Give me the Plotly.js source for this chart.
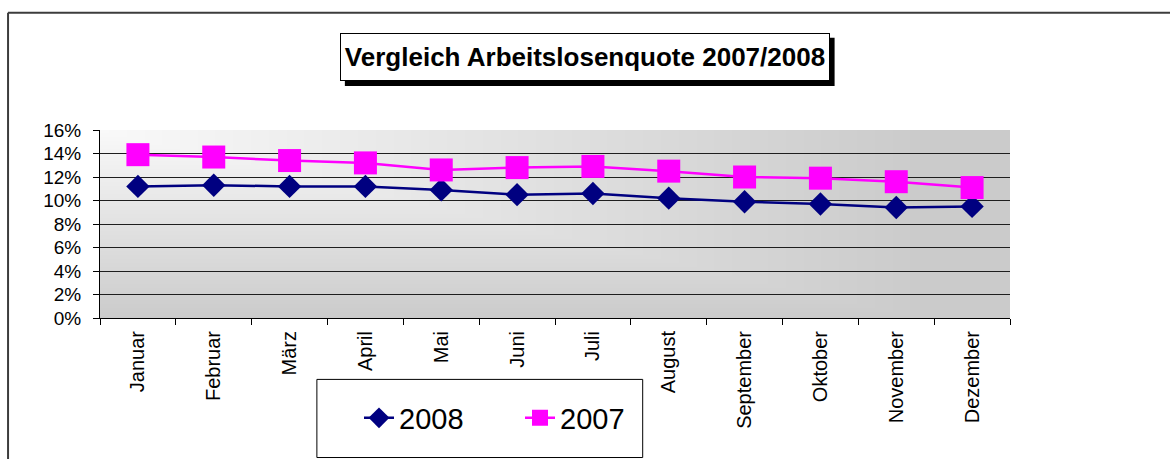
<!DOCTYPE html>
<html>
<head>
<meta charset="utf-8">
<script src="https://cdn.plot.ly/plotly-3.0.1.min.js"></script>
<style>html,body{margin:0;padding:0;background:#fff;}#chart{width:1170px;height:459px;}</style>
</head>
<body>
<div id="chart"></div>
<script>
// ---- data ----
const months = ["Januar","Februar","März","April","Mai","Juni","Juli","August","September","Oktober","November","Dezember"];
const rate2008 = [11.2, 11.3, 11.2, 11.2, 10.9, 10.5, 10.6, 10.2, 9.9, 9.7, 9.4, 9.5];
const rate2007 = [13.9, 13.7, 13.4, 13.2, 12.6, 12.8, 12.9, 12.5, 12.0, 11.9, 11.6, 11.1];
const titleText = "Vergleich Arbeitslosenquote 2007/2008";

// ---- geometry ----
const FW = 1170, FH = 459;
const L = 100, T = 130, R = 1010.5, B = 317.7;
const W = R - L, H = B - T;
const px = x => (x - L) / W;
const py = y => (B - y) / H;

// gradient background for plot area
function gradientURL() {
  const cw = Math.round(W), ch = Math.round(H);
  const c = document.createElement('canvas');
  c.width = cw; c.height = ch;
  const ctx = c.getContext('2d');
  const img = ctx.createImageData(cw, ch);
  for (let y = 0; y < ch; y++) {
    for (let x = 0; x < cw; x++) {
      let t = Math.max(x / (0.9 * cw), y / ch);
      if (t > 1) t = 1;
      const v = Math.round(249 - t * (249 - 203));
      const i = (y * cw + x) * 4;
      img.data[i] = v; img.data[i+1] = v; img.data[i+2] = v; img.data[i+3] = 255;
    }
  }
  ctx.putImageData(img, 0, 0);
  return c.toDataURL('image/png');
}

const font = "Liberation Sans, Arial, Helvetica, sans-serif";

const traces = [
  {
    x: months, y: rate2008, name: "2008", type: "scatter", mode: "lines+markers",
    line: {color: "#000080", width: 2.5},
    marker: {symbol: "diamond", size: 18, color: "#000080", line: {width: 0}}
  },
  {
    x: months, y: rate2007, name: "2007", type: "scatter", mode: "lines+markers",
    line: {color: "#FF00FF", width: 2.5},
    marker: {symbol: "square", size: 23, color: "#FF00FF", line: {width: 0}}
  }
];

const layout = {
  width: FW, height: FH,
  margin: {l: L, r: FW - R, t: T, b: FH - B, pad: 0},
  paper_bgcolor: "#ffffff",
  plot_bgcolor: "rgba(0,0,0,0)",
  showlegend: true,
  font: {family: font, color: "#000"},
  xaxis: {
    type: "category",
    range: [-0.5, 11.5],
    showgrid: false,
    showline: true, linecolor: "#000", linewidth: 1,
    ticks: "outside", tickson: "boundaries", ticklen: 6, tickcolor: "#000", tickwidth: 1,
    tickangle: -90,
    tickfont: {family: font, size: 20, color: "#000"},
    ticklabelstandoff: 4,
    zeroline: false, fixedrange: true
  },
  yaxis: {
    range: [0, 16],
    dtick: 2, tick0: 0,
    ticksuffix: "%",
    showgrid: true, gridcolor: "#1e1e1e", gridwidth: 1,
    showline: true, linecolor: "#000", linewidth: 1,
    ticks: "outside", ticklen: 6, tickcolor: "#000", tickwidth: 1,
    tickfont: {family: font, size: 19, color: "#000"},
    ticklabelstandoff: 8,
    zeroline: false, fixedrange: true
  },
  legend: {
    orientation: "h",
    xref: "container", yref: "container",
    x: 359 / FW, xanchor: "left",
    y: 1 - 418 / FH, yanchor: "middle",
    bgcolor: "rgba(0,0,0,0)", borderwidth: 0,
    entrywidth: 116, entrywidthmode: "pixels",
    font: {family: font, size: 29, color: "#000"},
    itemclick: false, itemdoubleclick: false
  },
  images: [{
    source: gradientURL(),
    xref: "paper", yref: "paper",
    x: 0, y: 1, sizex: 1, sizey: 1,
    xanchor: "left", yanchor: "top",
    sizing: "stretch", layer: "below"
  }],
  shapes: [
    // outer chart border (top & left visible)
    {type: "line", xref: "paper", yref: "paper", x0: px(8), x1: px(FW + 5), y0: py(13), y1: py(13), line: {color: "#3c3c3c", width: 2}},
    {type: "line", xref: "paper", yref: "paper", x0: px(8), x1: px(8), y0: py(13), y1: py(FH + 5), line: {color: "#3c3c3c", width: 2}},
    // title shadow
    {type: "rect", xref: "paper", yref: "paper", x0: px(345), x1: px(835), y0: py(38), y1: py(86), fillcolor: "#000", line: {width: 0}, layer: "above"},
    // legend box
    {type: "rect", xref: "paper", yref: "paper", x0: px(317), x1: px(643), y0: py(379), y1: py(457), fillcolor: "#ffffff", line: {color: "#000", width: 1}, layer: "below"}
  ],
  annotations: [{
    text: "<b>" + titleText + "</b>",
    xref: "paper", yref: "paper",
    x: px(585), y: py(57), xanchor: "center", yanchor: "middle",
    showarrow: false,
    width: 488, height: 46,
    bgcolor: "#ffffff", bordercolor: "#000", borderwidth: 1, borderpad: 0,
    font: {family: font, size: 26, color: "#000"}
  }]
};

Plotly.newPlot("chart", traces, layout, {displayModeBar: false, staticPlot: true});
</script>
</body>
</html>
